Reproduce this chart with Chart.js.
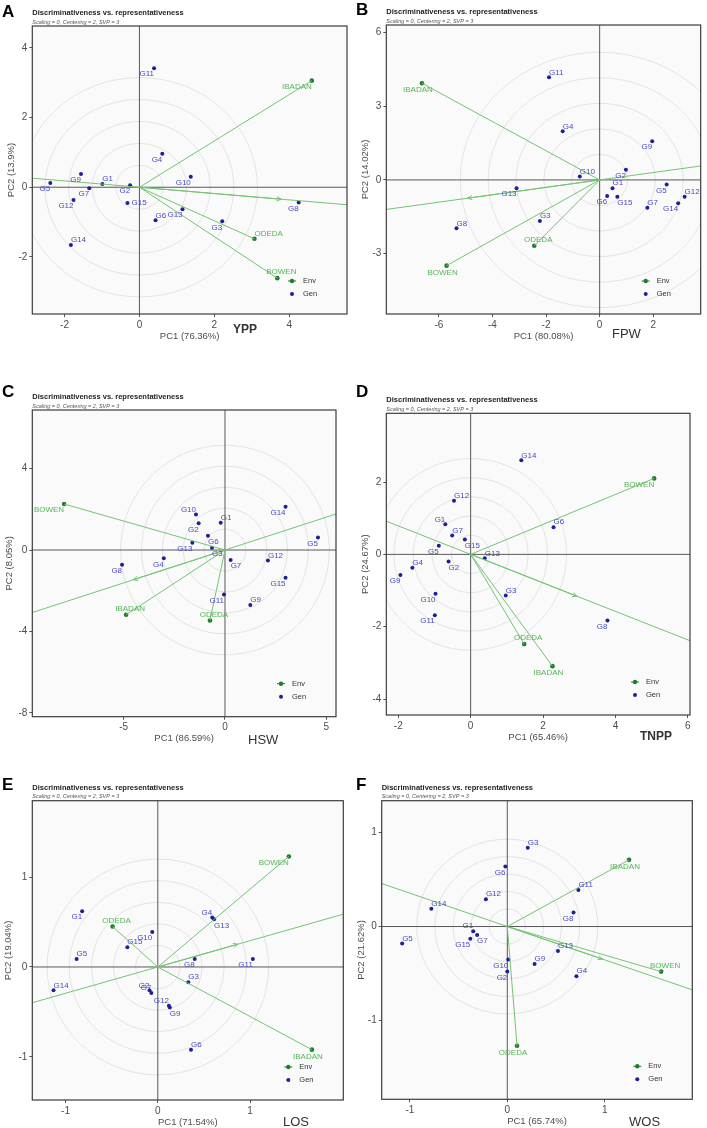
<!DOCTYPE html>
<html>
<head>
<meta charset="utf-8">
<script src="https://cdn.jsdelivr.net/npm/chart.js@4.4.1/dist/chart.umd.min.js"></script>
<style>
  html, body { margin: 0; padding: 0; background: #fff; }
  #wrap { position: relative; width: 707px; height: 1128px; overflow: hidden; }
  canvas { position: absolute; }
</style>
</head>
<body>
<div id="wrap">
  <canvas id="pA" width="354" height="350" style="left:0;top:0"></canvas>
  <canvas id="pB" width="353" height="350" style="left:354px;top:0"></canvas>
  <canvas id="pC" width="354" height="380" style="left:0;top:370px"></canvas>
  <canvas id="pD" width="353" height="380" style="left:354px;top:370px"></canvas>
  <canvas id="pE" width="354" height="378" style="left:0;top:750px"></canvas>
  <canvas id="pF" width="353" height="378" style="left:354px;top:750px"></canvas>
</div>
<script>
// genotypes G1..G15, environments in this order
const genNames = ['G1','G2','G3','G4','G5','G6','G7','G8','G9','G10','G11','G12','G13','G14','G15'];
const envNames = ['BOWEN','IBADAN','ODEDA'];

// A - YPP
const yppGenPC1 = [-0.99, -0.25, 2.21, 0.61, -2.38, 0.43, -1.34, 4.25, -1.56, 1.37, 0.39, -1.76, 1.15, -1.83, -0.32];
const yppGenPC2 = [0.09, 0.06, -0.98, 0.96, 0.12, -0.95, -0.03, -0.44, 0.38, 0.30, 3.42, -0.37, -0.63, -1.66, -0.45];
const yppEnvPC1 = [3.68, 4.60, 3.07];
const yppEnvPC2 = [-2.61, 3.06, -1.48];
const yppTicksX = [-2, 0, 2, 4];
const yppTicksY = [-2, 0, 2, 4];

// B - FPW
const fpwGenPC1 = [0.48, 0.98, -2.23, -1.38, 2.50, 0.28, 1.78, -5.34, 1.96, -0.74, -1.89, 3.17, -3.10, 2.93, 0.66];
const fpwGenPC2 = [-0.34, 0.41, -1.67, 1.98, -0.19, -0.65, -1.13, -1.97, 1.58, 0.14, 4.18, -0.68, -0.34, -0.95, -0.68];
const fpwEnvPC1 = [-5.71, -6.63, -2.44];
const fpwEnvPC2 = [-3.49, 3.94, -2.68];
const fpwTicksX = [-6, -4, -2, 0, 2];
const fpwTicksY = [-3, 0, 3, 6];

// C - HSW
const hswGenPC1 = [-0.21, -1.30, -0.64, -3.02, 4.59, -0.84, 0.28, -5.08, 1.25, -1.43, -0.05, 2.12, -1.61, 2.99, 2.99];
const hswGenPC2 = [1.34, 1.31, 0.11, -0.41, 0.62, 0.70, -0.49, -0.72, -2.70, 1.75, -2.18, -0.51, 0.36, 2.13, -1.36];
const hswEnvPC1 = [-7.94, -4.88, -0.74];
const hswEnvPC2 = [2.26, -3.18, -3.46];
const hswTicksX = [-5, 0, 5];
const hswTicksY = [-8, -4, 0, 4];

// D - TNPP
const tnppGenPC1 = [-0.70, -0.61, 0.97, -1.61, -0.88, 2.29, -0.51, 3.78, -1.94, -0.97, -0.99, -0.46, 0.39, 1.40, -0.16];
const tnppGenPC2 = [0.83, -0.20, -1.14, -0.37, 0.24, 0.75, 0.52, -1.83, -0.57, -1.09, -1.68, 1.48, -0.11, 2.60, 0.41];
const tnppEnvPC1 = [5.07, 2.26, 1.48];
const tnppEnvPC2 = [2.10, -3.09, -2.48];
const tnppTicksX = [-2, 0, 2, 4, 6];
const tnppTicksY = [-4, -2, 0, 2];

// E - LOS
const losGenPC1 = [-0.82, -0.09, 0.33, 0.59, -0.88, 0.36, -0.07, 0.40, 0.13, -0.06, 1.03, 0.12, 0.61, -1.13, -0.33];
const losGenPC2 = [0.62, -0.26, -0.17, 0.55, 0.09, -0.92, -0.29, 0.09, -0.45, 0.39, 0.09, -0.43, 0.53, -0.26, 0.22];
const losEnvPC1 = [1.42, 1.67, -0.49];
const losEnvPC2 = [1.23, -0.92, 0.45];
const losTicksX = [-1, 0, 1];
const losTicksY = [-1, 0, 1];

// F - WOS
const wosGenPC1 = [-0.35, 0.00, 0.21, 0.71, -1.08, -0.02, -0.31, 0.68, 0.28, 0.01, 0.73, -0.22, 0.52, -0.78, -0.38];
const wosGenPC2 = [-0.05, -0.48, 0.84, -0.53, -0.18, 0.64, -0.09, 0.15, -0.40, -0.35, 0.39, 0.29, -0.26, 0.19, -0.13];
const wosEnvPC1 = [1.58, 1.25, 0.10];
const wosEnvPC2 = [-0.48, 0.71, -1.27];
const wosTicksX = [-1, 0, 1];
const wosTicksY = [-1, 0, 1];

const FONT = "'Liberation Sans', Arial, Helvetica, sans-serif";
const GREEN_LINE = '#74c474';
const GREEN_PT = '#1d7d2a';
const GREEN_TXT = '#55b555';
const BLUE_PT = '#1f1f96';
const BLUE_TXT = '#4a4ac0';

function drawLabel(ctx, text, px, py, code) {
  let x = px, y = py;
  if (code === 'ar') { ctx.textAlign = 'left'; ctx.textBaseline = 'bottom'; y = py - 1; }
  else if (code === 'al') { ctx.textAlign = 'right'; ctx.textBaseline = 'bottom'; y = py - 1; }
  else if (code === 'bl') { ctx.textAlign = 'right'; ctx.textBaseline = 'top'; y = py + 2; }
  else if (code === 'br') { ctx.textAlign = 'left'; ctx.textBaseline = 'top'; y = py + 2; }
  else if (code === 'a') { ctx.textAlign = 'center'; ctx.textBaseline = 'bottom'; x = px + 4; y = py - 2; }
  else if (code === 'b') { ctx.textAlign = 'center'; ctx.textBaseline = 'top'; x = px - 4; y = py + 3; }
  else if (code === 'r') { ctx.textAlign = 'left'; ctx.textBaseline = 'middle'; x = px + 4; }
  else { ctx.textAlign = 'right'; ctx.textBaseline = 'middle'; x = px - 4; }
  ctx.fillText(text, x, y);
}

const biplot = {
  id: 'biplot',
  beforeDatasetsDraw(chart, args, o) {
    const { ctx, chartArea: a, scales: { x, y } } = chart;
    ctx.save();
    ctx.fillStyle = '#fafafa';
    ctx.fillRect(a.left, a.top, a.width, a.height);
    ctx.beginPath();
    ctx.rect(a.left, a.top, a.width, a.height);
    ctx.clip();
    const x0 = x.getPixelForValue(0), y0 = y.getPixelForValue(0);
    ctx.strokeStyle = '#e4e4e4';
    ctx.lineWidth = 1;
    for (let k = 1; k <= o.rings; k++) {
      const r = k * o.ringStep;
      ctx.beginPath();
      ctx.ellipse(x0, y0, Math.abs(x.getPixelForValue(r) - x0), Math.abs(y.getPixelForValue(r) - y0), 0, 0, Math.PI * 2);
      ctx.stroke();
    }
    ctx.strokeStyle = '#595959';
    ctx.beginPath();
    ctx.moveTo(x0, a.top); ctx.lineTo(x0, a.bottom);
    ctx.moveTo(a.left, y0); ctx.lineTo(a.right, y0);
    ctx.stroke();
    ctx.restore();
  },
  afterDatasetsDraw(chart, args, o) {
    const { ctx, chartArea: a, scales: { x, y } } = chart;
    ctx.save();
    // arrow head at the average environment
    const x0 = x.getPixelForValue(0), y0 = y.getPixelForValue(0);
    const mx = x.getPixelForValue(o.mean[0]), my = y.getPixelForValue(o.mean[1]);
    const ang = Math.atan2(my - y0, mx - x0);
    ctx.strokeStyle = GREEN_LINE;
    ctx.lineWidth = 1;
    ctx.beginPath();
    ctx.moveTo(mx - 5 * Math.cos(ang - 0.45), my - 5 * Math.sin(ang - 0.45));
    ctx.lineTo(mx, my);
    ctx.lineTo(mx - 5 * Math.cos(ang + 0.45), my - 5 * Math.sin(ang + 0.45));
    ctx.stroke();
    // labels
    ctx.font = '8px ' + FONT;
    ctx.fillStyle = BLUE_TXT;
    o.genX.forEach((v, i) => drawLabel(ctx, genNames[i], x.getPixelForValue(v), y.getPixelForValue(o.genY[i]), o.genPos[i]));
    ctx.fillStyle = GREEN_TXT;
    o.envX.forEach((v, i) => drawLabel(ctx, envNames[i], x.getPixelForValue(v), y.getPixelForValue(o.envY[i]), o.envPos[i]));
    ctx.restore();
  },
  afterDraw(chart, args, o) {
    const { ctx, chartArea: a } = chart;
    ctx.save();
    ctx.strokeStyle = '#3c3c3c';
    ctx.lineWidth = 1.2;
    ctx.strokeRect(a.left, a.top, a.width, a.height);
    // panel letter
    ctx.fillStyle = '#000';
    ctx.font = 'bold 17px ' + FONT;
    ctx.textAlign = 'left'; ctx.textBaseline = 'alphabetic';
    ctx.fillText(o.letter, 2, o.letterY);
    // title + subtitle
    ctx.fillStyle = '#222';
    ctx.font = 'bold 7.5px ' + FONT;
    ctx.fillText('Discriminativeness vs. representativeness', a.left, a.top - 11);
    ctx.fillStyle = '#555';
    ctx.font = 'italic 5.5px ' + FONT;
    ctx.fillText('Scaling = 0, Centering = 2, SVP = 3', a.left, a.top - 2.5);
    // axis titles
    ctx.fillStyle = '#4d4d4d';
    ctx.font = '9.5px ' + FONT;
    ctx.textAlign = 'center'; ctx.textBaseline = 'middle';
    ctx.fillText(o.xTitle, (a.left + a.right) / 2, a.bottom + 22);
    ctx.save();
    ctx.translate(o.yTitleX, (a.top + a.bottom) / 2);
    ctx.rotate(-Math.PI / 2);
    ctx.fillText(o.yTitle, 0, 0);
    ctx.restore();
    // trait name
    ctx.fillStyle = '#333';
    ctx.font = (o.traitBold ? 'bold 12px ' : '13px ') + FONT;
    ctx.textAlign = 'left';
    ctx.fillText(o.trait, o.traitX, a.bottom + o.traitDy);
    // legend
    const lx = a.right - 55, ly1 = a.bottom - 33, ly2 = a.bottom - 20;
    ctx.strokeStyle = GREEN_PT; ctx.lineWidth = 1;
    ctx.beginPath(); ctx.moveTo(lx - 4, ly1); ctx.lineTo(lx + 4, ly1); ctx.stroke();
    ctx.fillStyle = GREEN_PT;
    ctx.beginPath(); ctx.arc(lx, ly1, 2.2, 0, Math.PI * 2); ctx.fill();
    ctx.fillStyle = BLUE_PT;
    ctx.beginPath(); ctx.arc(lx, ly2, 2, 0, Math.PI * 2); ctx.fill();
    ctx.fillStyle = '#333';
    ctx.font = '7.5px ' + FONT;
    ctx.textBaseline = 'middle';
    ctx.fillText('Env', lx + 11, ly1);
    ctx.fillText('Gen', lx + 11, ly2);
    ctx.restore();
  }
};
Chart.register(biplot);

function makePanel(p) {
  const mean = [
    p.envX.reduce((s, v) => s + v, 0) / p.envX.length,
    p.envY.reduce((s, v) => s + v, 0) / p.envY.length
  ];
  const slope = mean[1] / mean[0];
  const lineStyle = { showLine: true, pointRadius: 0, borderColor: GREEN_LINE, borderWidth: 1, fill: false };
  const datasets = [];
  p.envX.forEach((v, i) => {
    datasets.push(Object.assign({ data: [{ x: 0, y: 0 }, { x: v, y: p.envY[i] }] }, lineStyle));
  });
  datasets.push(Object.assign({ data: [{ x: p.xMin, y: slope * p.xMin }, { x: p.xMax, y: slope * p.xMax }] }, lineStyle));
  datasets.push(Object.assign({ data: [{ x: 0, y: 0 }, { x: mean[0], y: mean[1] }] }, lineStyle));
  datasets.push({
    data: p.genX.map((v, i) => ({ x: v, y: p.genY[i] })),
    pointRadius: 2, pointBackgroundColor: BLUE_PT, pointBorderWidth: 0, showLine: false
  });
  datasets.push({
    data: p.envX.map((v, i) => ({ x: v, y: p.envY[i] })),
    pointRadius: 2.3, pointBackgroundColor: GREEN_PT, pointBorderWidth: 0, showLine: false
  });

  const tickStyle = { color: '#4d4d4d', font: { size: 10, family: FONT }, padding: 2, maxRotation: 0 };
  const gridStyle = { drawOnChartArea: false, drawTicks: true, tickLength: 3, color: '#555', tickColor: '#555' };

  new Chart(document.getElementById(p.id), {
    type: 'scatter',
    data: { datasets },
    options: {
      responsive: false,
      animation: false,
      events: [],
      layout: { padding: { top: p.padTop, right: p.padRight, left: 0, bottom: 0 } },
      plugins: {
        legend: { display: false },
        tooltip: { enabled: false },
        biplot: {
          genX: p.genX, genY: p.genY, envX: p.envX, envY: p.envY, mean,
          genPos: p.genPos, envPos: p.envPos, rings: 5, ringStep: p.ringStep,
          letter: p.letter, letterY: p.letterY, xTitle: p.xTitle, yTitle: p.yTitle, yTitleX: p.yTitleX,
          trait: p.trait, traitX: p.traitX, traitDy: p.traitDy, traitBold: p.traitBold
        }
      },
      scales: {
        x: {
          type: 'linear', min: p.xMin, max: p.xMax,
          afterBuildTicks: s => { s.ticks = p.ticksX.map(v => ({ value: v })); },
          afterFit: s => { s.height = p.xAxisH; s.paddingLeft = 0; s.paddingRight = 0; },
          grid: gridStyle, border: { display: false }, ticks: tickStyle
        },
        y: {
          type: 'linear', min: p.yMin, max: p.yMax,
          afterBuildTicks: s => { s.ticks = p.ticksY.map(v => ({ value: v })); },
          afterFit: s => { s.width = p.yAxisW; s.paddingTop = 0; s.paddingBottom = 0; },
          grid: gridStyle, border: { display: false }, ticks: tickStyle
        }
      }
    }
  });
}

makePanel({
  id: 'pA', letter: 'A', letterY: 16.5, trait: 'YPP', traitBold: true, traitX: 233, traitDy: 16,
  xTitle: 'PC1 (76.36%)', yTitle: 'PC2 (13.9%)', yTitleX: 11,
  genX: yppGenPC1, genY: yppGenPC2, envX: yppEnvPC1, envY: yppEnvPC2, ticksX: yppTicksX, ticksY: yppTicksY,
  xMin: -2.86, xMax: 5.54, yMin: -3.64, yMax: 4.63,
  padTop: 26, padRight: 7, yAxisW: 32.3, xAxisH: 36, ringStep: 0.63,
  genPos: ['ar','bl','bl','bl','bl','ar','bl','bl','bl','bl','bl','bl','bl','ar','r'], envPos: ['a','bl','ar']
});
makePanel({
  id: 'pB', letter: 'B', letterY: 15, trait: 'FPW', traitBold: false, traitX: 258, traitDy: 20,
  xTitle: 'PC1 (80.08%)', yTitle: 'PC2 (14.02%)', yTitleX: 11,
  genX: fpwGenPC1, genY: fpwGenPC2, envX: fpwEnvPC1, envY: fpwEnvPC2, ticksX: fpwTicksX, ticksY: fpwTicksY,
  xMin: -7.96, xMax: 3.77, yMin: -5.46, yMax: 6.31,
  padTop: 25, padRight: 6.3, yAxisW: 32.3, xAxisH: 36, ringStep: 1.04,
  genPos: ['ar','bl','ar','ar','bl','bl','ar','ar','bl','ar','ar','ar','bl','bl','br'], envPos: ['b','b','a']
});
makePanel({
  id: 'pC', letter: 'C', letterY: 26.7, trait: 'HSW', traitBold: false, traitX: 248, traitDy: 24,
  xTitle: 'PC1 (86.59%)', yTitle: 'PC2 (8.05%)', yTitleX: 9,
  genX: hswGenPC1, genY: hswGenPC2, envX: hswEnvPC1, envY: hswEnvPC2, ticksX: hswTicksX, ticksY: hswTicksY,
  xMin: -9.51, xMax: 5.48, yMin: -8.19, yMax: 6.88,
  padTop: 40, padRight: 18, yAxisW: 32.3, xAxisH: 33.3, ringStep: 1.03,
  genPos: ['ar','bl','br','bl','bl','br','br','bl','ar','al','bl','ar','bl','bl','bl'], envPos: ['bl','a','a']
});
makePanel({
  id: 'pD', letter: 'D', letterY: 26.7, trait: 'TNPP', traitBold: true, traitX: 286, traitDy: 22,
  xTitle: 'PC1 (65.46%)', yTitle: 'PC2 (24.67%)', yTitleX: 11,
  genX: tnppGenPC1, genY: tnppGenPC2, envX: tnppEnvPC1, envY: tnppEnvPC2, ticksX: tnppTicksX, ticksY: tnppTicksY,
  xMin: -2.33, xMax: 6.06, yMin: -4.44, yMax: 3.9,
  padTop: 43.3, padRight: 17, yAxisW: 32.3, xAxisH: 35, ringStep: 0.53,
  genPos: ['al','br','ar','ar','bl','ar','ar','bl','bl','bl','bl','ar','ar','ar','br'], envPos: ['bl','b','a']
});
makePanel({
  id: 'pE', letter: 'E', letterY: 40, trait: 'LOS', traitBold: false, traitX: 283, traitDy: 22,
  xTitle: 'PC1 (71.54%)', yTitle: 'PC2 (19.04%)', yTitleX: 8,
  genX: losGenPC1, genY: losGenPC2, envX: losEnvPC1, envY: losEnvPC2, ticksX: losTicksX, ticksY: losTicksY,
  xMin: -1.36, xMax: 2.01, yMin: -1.48, yMax: 1.85,
  padTop: 50.7, padRight: 10.7, yAxisW: 32.3, xAxisH: 28, ringStep: 0.24,
  genPos: ['bl','al','ar','al','ar','ar','al','bl','br','bl','bl','al','br','ar','ar'], envPos: ['bl','b','a']
});
makePanel({
  id: 'pF', letter: 'F', letterY: 40, trait: 'WOS', traitBold: false, traitX: 275, traitDy: 22.7,
  xTitle: 'PC1 (65.74%)', yTitle: 'PC2 (21.62%)', yTitleX: 7,
  genX: wosGenPC1, genY: wosGenPC2, envX: wosEnvPC1, envY: wosEnvPC2, ticksX: wosTicksX, ticksY: wosTicksY,
  xMin: -1.29, xMax: 1.9, yMin: -1.84, yMax: 1.34,
  padTop: 50.7, padRight: 14.7, yAxisW: 27.7, xAxisH: 28.7, ringStep: 0.186,
  genPos: ['al','bl','ar','ar','ar','bl','br','bl','ar','bl','ar','ar','ar','ar','bl'], envPos: ['a','b','b']
});
</script>
</body>
</html>
